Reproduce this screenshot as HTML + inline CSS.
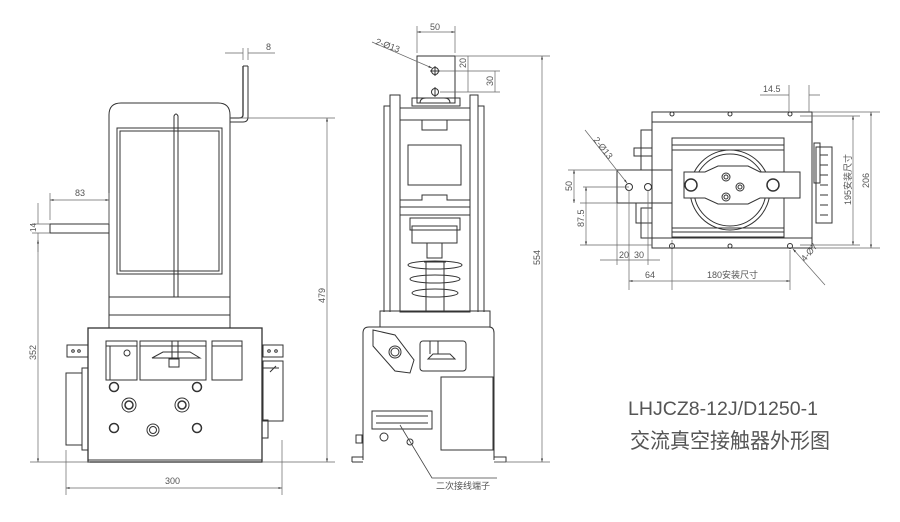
<!DOCTYPE html>
<html><head><meta charset="utf-8"><style>
html,body{margin:0;padding:0;background:#fff;width:900px;height:522px;overflow:hidden}
svg{display:block}
text{font-family:"Liberation Sans","Noto Sans CJK SC",sans-serif;fill:#555}
</style></head><body>
<svg width="900" height="522" viewBox="0 0 900 522" xmlns="http://www.w3.org/2000/svg">
<defs>
<marker id="a" viewBox="0 0 10 10" refX="10" refY="5" markerWidth="7" markerHeight="5" orient="auto-start-reverse"><path d="M0,2 L10,5 L0,8z" fill="#444"/></marker>
</defs>
<g fill="none" stroke="#333" stroke-width="1">
<!-- ===== LEFT VIEW ===== -->
<path d="M243,66 V115 Q243,118 239,118 H230" stroke-width="1.3"/>
<path d="M248,66 V117 Q248,122 243,122 H230"/>
<path d="M243,66 H248"/>
<path d="M109,328 V115 Q109,103 121,103 H218 Q230,103 230,115 V328"/>
<rect x="117" y="128" width="105" height="146"/>
<rect x="120" y="131" width="99" height="140"/>
<path d="M174,297 V116 Q176,112 178,116 V297"/>
<path d="M109,297 H230 M109,315 H230"/>
<rect x="50" y="224" width="59" height="9"/>
<rect x="88" y="328" width="174" height="134" stroke-width="1.3"/>
<path d="M88,460 H262"/>
<rect x="106" y="341" width="31" height="39"/><path d="M106,346 H137 M110,346 V380"/>
<rect x="140" y="341" width="66" height="39"/><path d="M140,346 H206 M172,341 V358 M178,341 V358"/>
<path d="M152,358 L163,352 H190 L200,358 Z"/><rect x="169" y="359" width="10" height="8"/>
<rect x="212" y="341" width="30" height="39"/><path d="M212,346 H242"/>
<circle cx="127" cy="353" r="3"/>
<circle cx="114" cy="387" r="4.5" stroke-width="1.5"/><circle cx="197" cy="387" r="4.5" stroke-width="1.5"/>
<circle cx="129" cy="405" r="7"/><circle cx="129" cy="405" r="4" stroke-width="1.5"/>
<circle cx="182" cy="405" r="7"/><circle cx="182" cy="405" r="4" stroke-width="1.5"/>
<circle cx="114" cy="428" r="4.5" stroke-width="1.5"/><circle cx="197" cy="428" r="4.5" stroke-width="1.5"/>
<circle cx="153" cy="430" r="6"/><circle cx="153" cy="430" r="3.5"/>
<rect x="67" y="345" width="21" height="12"/><circle cx="73" cy="351" r="1.3"/><circle cx="79" cy="351" r="1.3"/>
<rect x="66" y="373" width="16" height="72"/><rect x="82" y="368" width="6" height="82"/>
<rect x="263" y="345" width="20" height="12"/><circle cx="269" cy="351" r="1.3"/><circle cx="276" cy="351" r="1.3"/>
<rect x="263" y="361" width="20" height="60"/><path d="M263,368 H279 M270,372 L276,366"/>
<rect x="262" y="420" width="6" height="18"/>
<!-- dims left -->
<path d="M248,60 V48 M243,60 V48 M225,53 H243 M248,53 H275" stroke="#666" stroke-width="0.7"/>
<path d="M50,220 V193 M109,224 V193" stroke="#666" stroke-width="0.7"/>
<path d="M50,200 H109" stroke="#666" stroke-width="0.7" marker-start="url(#a)" marker-end="url(#a)"/>
<path d="M32,224 H50 M32,233 H50 M38,203 V224 M38,233 V252" stroke="#666" stroke-width="0.7"/>
<path d="M38,240 V462" stroke="#666" stroke-width="0.7" marker-start="url(#a)" marker-end="url(#a)"/>
<path d="M30,462 H90 M262,462 H335 M230,118 H335" stroke="#666" stroke-width="0.7"/>
<path d="M327,118 V462" stroke="#666" stroke-width="0.7" marker-start="url(#a)" marker-end="url(#a)"/>
<path d="M66,450 V495 M282,440 V495" stroke="#666" stroke-width="0.7"/>
<path d="M66,488 H282" stroke="#666" stroke-width="0.7" marker-start="url(#a)" marker-end="url(#a)"/>

<!-- ===== MIDDLE VIEW ===== -->
<rect x="417" y="56" width="38" height="47"/>
<circle cx="435" cy="71" r="3.5"/><path d="M430,71 H440 M435,66 V76"/>
<circle cx="435" cy="92" r="3.5"/><path d="M435,87 V97"/>
<path d="M420,103 Q420,98 426,98 H444 Q450,98 450,103"/>
<rect x="412" y="98" width="48" height="8"/>
<path d="M390,312 V95 H400 V108 H470 V95 H478 V312"/>
<path d="M384,312 V106 H390 M478,106 H484 V312"/>
<path d="M400,108 V312 M470,108 V312"/>
<rect x="400" y="120" width="70" height="87"/>
<rect x="422" y="120" width="25" height="10"/>
<rect x="408" y="145" width="53" height="40"/>
<path d="M400,207 V200 H422 V195 H447 V200 H470"/>
<rect x="400" y="215" width="70" height="97"/>
<rect x="410" y="218" width="50" height="12"/>
<rect x="412" y="226" width="45" height="17"/>
<rect x="427" y="243" width="15" height="15"/>
<path d="M424,262 H446 M426,262 V312 M444,262 V312"/>
<ellipse cx="435" cy="265" rx="27" ry="4"/><ellipse cx="435" cy="279" rx="25" ry="4"/><ellipse cx="435" cy="293" rx="23" ry="4"/>
<path d="M380,327 V311 H490 V327"/>
<path d="M363,460 V333 Q363,327 369,327 H489 Q494,327 494,333 V460"/>
<path d="M352,462 H363 M494,462 H506 M352,462 V457 H363 M494,457 H506 V462"/>
<path d="M373,330 L395,335 L414,360 L410,373 L395,371 L373,346 Z"/>
<circle cx="395" cy="352" r="6"/><circle cx="395" cy="352" r="4"/>
<rect x="420" y="341" width="46" height="30" rx="3"/>
<path d="M428,359 L433,354 H450 L455,359 Z M430,341 V354 M438,341 V354"/>
<rect x="441" y="377" width="52" height="73"/>
<rect x="372" y="411" width="60" height="18"/>
<path d="M376,416 H428 M376,423 H428"/>
<circle cx="384" cy="437" r="4"/><circle cx="410" cy="442" r="3"/>
<path d="M356,435 h6 v8 h-6z"/>
<!-- dims middle -->
<path d="M417,53 V26 M455,53 V26" stroke="#666" stroke-width="0.7"/>
<path d="M417,32 H455" stroke="#666" stroke-width="0.7" marker-start="url(#a)" marker-end="url(#a)"/>
<path d="M372,42 L432,68" stroke="#666" stroke-width="0.7" marker-end="url(#a)"/>
<path d="M440,71 H500 M440,92 H500 M455,56 H550 M468,56 V92 M495,71 V92 M494,462 H550" stroke="#666" stroke-width="0.7"/>
<path d="M542,56 V462" stroke="#666" stroke-width="0.7" marker-start="url(#a)" marker-end="url(#a)"/>
<path d="M400,425 L432,478 H497" stroke="#444" stroke-width="0.8"/>

<!-- ===== RIGHT VIEW ===== -->
<rect x="652" y="112" width="160" height="136"/>
<path d="M652,122 H812 M652,238 H812"/>
<rect x="672" y="138" width="112" height="99"/>
<path d="M672,145 H784 M672,150 H784 M672,228 H784 M672,232 H784"/>
<circle cx="730" cy="190" r="40"/><circle cx="730" cy="190" r="36"/>
<path d="M617,170 H672 V203 H617 Z"/>
<path d="M684,172 H705 L718,166 H748 L760,172 H800 V198 H760 L748,204 H718 L705,198 H684 Z" fill="#fff"/>
<circle cx="691" cy="185" r="6" stroke-width="1.5"/><circle cx="773" cy="185" r="6" stroke-width="1.5"/>
<circle cx="726" cy="177" r="4"/><circle cx="726" cy="177" r="2"/>
<circle cx="740" cy="187" r="4"/><circle cx="740" cy="187" r="2"/>
<circle cx="726" cy="197" r="4"/><circle cx="726" cy="197" r="2"/>
<circle cx="629" cy="187" r="3.5"/><circle cx="648" cy="187" r="3.5"/>
<rect x="641" y="130" width="11" height="40"/><rect x="634" y="148" width="18" height="8"/>
<rect x="636" y="203" width="16" height="20"/><rect x="641" y="208" width="11" height="30"/>
<rect x="814" y="143" width="6" height="40"/>
<rect x="816" y="147" width="16" height="76"/>
<path d="M820,155 h8 M820,165 h8 M820,175 h8 M820,185 h8 M820,195 h8 M820,205 h8 M820,215 h8"/>
<circle cx="672" cy="114" r="2"/><circle cx="730" cy="114" r="2"/><circle cx="790" cy="114" r="2"/>
<circle cx="672" cy="246" r="2.5"/><circle cx="730" cy="246" r="2"/><circle cx="790" cy="246" r="2.5"/>
<!-- dims right -->
<path d="M789,85 V112 M809,85 V112 M760,95 H789 M809,95 H820" stroke="#666" stroke-width="0.7"/>
<path d="M812,112 H880 M800,116 H860 M800,245 H860 M812,248 H880" stroke="#666" stroke-width="0.7"/>
<path d="M853,116 V245" stroke="#666" stroke-width="0.7" marker-start="url(#a)" marker-end="url(#a)"/>
<path d="M871,112 V248" stroke="#666" stroke-width="0.7" marker-start="url(#a)" marker-end="url(#a)"/>
<path d="M568,170 H617 M583,187 H629 M580,203 H617 M580,245 H652" stroke="#666" stroke-width="0.7"/>
<path d="M574,170 V203" stroke="#666" stroke-width="0.7" marker-start="url(#a)" marker-end="url(#a)"/>
<path d="M586,187 V245" stroke="#666" stroke-width="0.7" marker-start="url(#a)" marker-end="url(#a)"/>
<path d="M617,203 V265 M629,190 V290 M648,190 V265 M672,240 V290 M790,250 V290" stroke="#666" stroke-width="0.7"/>
<path d="M600,260 H660 M617,260 H648" stroke="#666" stroke-width="0.7"/>
<path d="M629,281 H790" stroke="#666" stroke-width="0.7" marker-start="url(#a)" marker-end="url(#a)"/>
<path d="M585,130 L627,183" stroke="#666" stroke-width="0.7" marker-end="url(#a)"/>
<path d="M793,249 L825,285" stroke="#666" stroke-width="0.7" marker-start="url(#a)"/>
</g>
<!-- dimension text -->
<g font-size="9">
<text x="266" y="50">8</text>
<text x="75" y="196">83</text>
<text x="36" y="232" transform="rotate(-90 36 232)" font-size="8">14</text>
<text x="36" y="360" transform="rotate(-90 36 360)">352</text>
<text x="325" y="303" transform="rotate(-90 325 303)">479</text>
<text x="165" y="484">300</text>
<text x="430" y="30">50</text>
<text x="375" y="44" transform="rotate(20 375 44)">2-Ø13</text>
<text x="466" y="68" transform="rotate(-90 466 68)">20</text>
<text x="493" y="86" transform="rotate(-90 493 86)">30</text>
<text x="540" y="265" transform="rotate(-90 540 265)">554</text>
<text x="763" y="92">14.5</text>
<text x="851" y="205" transform="rotate(-90 851 205)">195安装尺寸</text>
<text x="869" y="188" transform="rotate(-90 869 188)">206</text>
<text x="572" y="191" transform="rotate(-90 572 191)">50</text>
<text x="584" y="227" transform="rotate(-90 584 227)">87.5</text>
<text x="619" y="258">20</text><text x="634" y="258">30</text>
<text x="645" y="278">64</text>
<text x="707" y="278">180安装尺寸</text>
<text x="593" y="140" transform="rotate(52 593 140)">2-Ø13</text>
<text x="805" y="262" transform="rotate(-50 805 262)">4-Ø7</text>
<text x="436" y="489" font-size="9" fill="#333">二次接线端子</text>
</g>
<text x="628" y="415" font-size="19" fill="#333" font-family="Liberation Mono, monospace" textLength="190" lengthAdjust="spacingAndGlyphs">LHJCZ8-12J/D1250-1</text>
<text x="630" y="448" font-size="21" fill="#333" textLength="200" lengthAdjust="spacingAndGlyphs">交流真空接触器外形图</text>
</svg>
</body></html>
